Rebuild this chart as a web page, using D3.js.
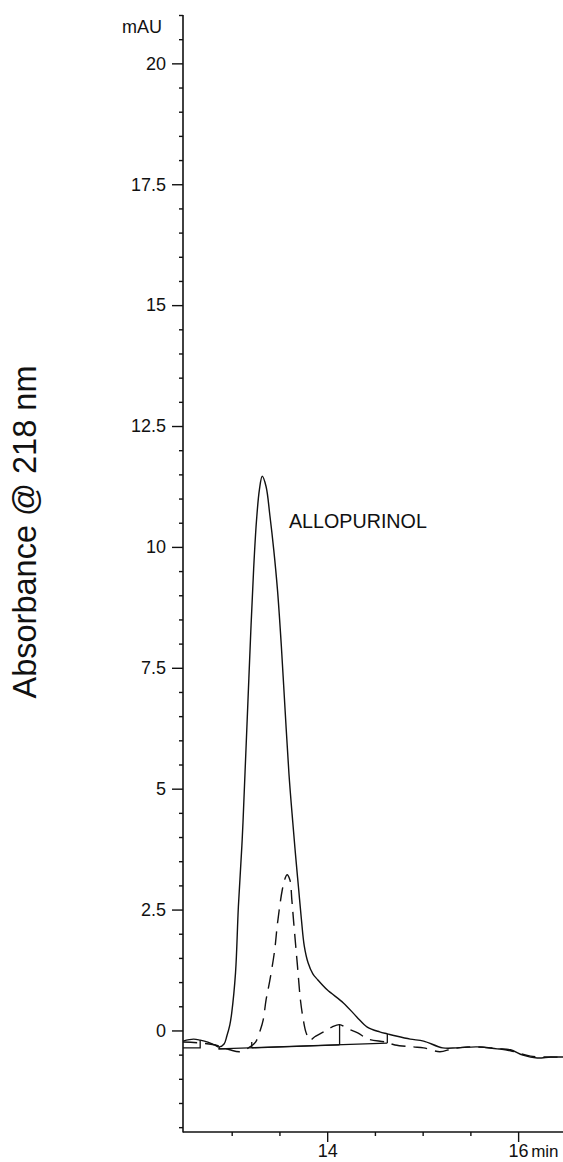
<!DOCTYPE html>
<html>
<head>
<meta charset="utf-8">
<script src="https://cdn.jsdelivr.net/npm/d3@7"></script>
<style>
  html, body { margin: 0; padding: 0; background: #fff; }
  svg { display: block; }
  text { font-family: "Liberation Sans", Arial, Helvetica, sans-serif; fill: #111; }
</style>
</head>
<body>
<script>
// Retention time (min) and absorbance (mAU) for the sample trace (solid)
const sampleTime = [12.49, 12.60, 12.67, 12.75, 12.82, 12.87, 12.92, 12.95, 12.98, 13.00, 13.04, 13.07, 13.11, 13.14, 13.17, 13.20, 13.23, 13.26, 13.29, 13.32, 13.36, 13.40, 13.44, 13.48, 13.52, 13.56, 13.60, 13.64, 13.67, 13.70, 13.73, 13.76, 13.80, 13.85, 13.90, 14.00, 14.17, 14.31, 14.42, 14.55, 14.63, 14.71, 14.87, 15.01, 15.21, 15.36, 15.57, 15.78, 15.92, 16.05, 16.20, 16.34, 16.47];
const sampleAbs = [-0.22, -0.18, -0.20, -0.24, -0.30, -0.34, -0.28, -0.11, 0.11, 0.36, 1.19, 2.56, 3.95, 5.35, 6.80, 8.25, 9.55, 10.55, 11.18, 11.46, 11.25, 10.65, 9.95, 9.10, 7.95, 6.60, 5.30, 4.30, 3.60, 2.95, 2.30, 1.75, 1.40, 1.17, 1.05, 0.84, 0.57, 0.28, 0.07, -0.03, -0.07, -0.11, -0.18, -0.22, -0.36, -0.36, -0.34, -0.38, -0.40, -0.51, -0.57, -0.55, -0.55];

// Second trace (dashed)
const dashedTime = [12.49, 12.67, 12.83, 12.98, 13.09, 13.19, 13.25, 13.30, 13.33, 13.36, 13.40, 13.45, 13.48, 13.53, 13.56, 13.58, 13.61, 13.63, 13.65, 13.69, 13.72, 13.75, 13.78, 13.82, 13.87, 13.98, 14.05, 14.13, 14.22, 14.32, 14.43, 14.61, 14.71, 14.90, 15.01, 15.18, 15.31, 15.47, 15.71, 15.92, 16.13, 16.47];
const dashedAbs = [-0.24, -0.26, -0.30, -0.40, -0.44, -0.34, -0.24, 0.01, 0.22, 0.63, 1.04, 1.66, 2.22, 2.91, 3.15, 3.22, 3.11, 2.70, 2.22, 1.31, 0.63, 0.22, -0.05, -0.20, -0.13, -0.01, 0.07, 0.12, 0.03, -0.05, -0.18, -0.24, -0.30, -0.34, -0.36, -0.44, -0.38, -0.34, -0.36, -0.42, -0.53, -0.55];

// Integration baselines and drop lines, as [time, mAU] polylines
const integrationMarks = [
  [[12.86, -0.38], [14.63, -0.26]],
  [[13.21, -0.36], [14.13, -0.30]],
  [[14.13, -0.30], [14.13, 0.12]],
  [[14.63, -0.26], [14.63, -0.07]],
  [[13.21, -0.36], [13.21, -0.24]],
  [[12.49, -0.36], [12.67, -0.36], [12.67, -0.20]],
  [[12.87, -0.34], [12.87, -0.38], [12.95, -0.38]]
];

// Axis ticks and labels
const yMajorTicks = [0, 2.5, 5, 7.5, 10, 12.5, 15, 17.5, 20];
const yMajorLabels = ["0", "2.5", "5", "7.5", "10", "12.5", "15", "17.5", "20"];
const xMajorTicks = [14, 16];
const xMajorLabels = ["14", "16"];
const yUnit = "mAU";
const xUnit = "min";
const yTitle = "Absorbance @ 218 nm";
const peakLabel = "ALLOPURINOL";
const peakLabelAt = [13.60, 10.4];

const W = 563, H = 1162;
const axisX = 183, axisBottom = 1132, axisTop = 15;

const x = d3.scaleLinear().domain([12.49, 16.47]).range([axisX, 563]);
const y = d3.scaleLinear().domain([-2.1, 21.0]).range([axisBottom, axisTop]);

const svg = d3.select("body").append("svg")
  .attr("width", W).attr("height", H)
  .attr("viewBox", `0 0 ${W} ${H}`);

svg.append("rect").attr("width", W).attr("height", H).attr("fill", "#fff");

// minor ticks every 0.5
const yMinor = d3.range(-4, 43).map(i => i / 2).filter(v => !yMajorTicks.includes(v));
const xMinor = d3.range(26, 33).map(i => i / 2).filter(v => !xMajorTicks.includes(v) && v >= 12.5);

const yAxisG = svg.append("g").attr("transform", `translate(${axisX},0)`);
yAxisG.call(d3.axisLeft(y).tickValues(yMinor).tickSize(4).tickFormat(""));
yAxisG.call(g => g.select(".domain").remove());
const yMajG = svg.append("g").attr("transform", `translate(${axisX},0)`)
  .call(d3.axisLeft(y).tickValues(yMajorTicks).tickSize(11).tickPadding(6)
    .tickFormat((d, i) => yMajorLabels[i]));
yMajG.select(".domain").remove();
yMajG.selectAll("text").attr("font-size", 18).attr("font-family", null);

const xMinG = svg.append("g").attr("transform", `translate(0,${axisBottom})`)
  .call(d3.axisBottom(x).tickValues(xMinor).tickSize(4).tickFormat(""));
xMinG.select(".domain").remove();
const xMajG = svg.append("g").attr("transform", `translate(0,${axisBottom})`)
  .call(d3.axisBottom(x).tickValues(xMajorTicks).tickSize(10).tickPadding(2)
    .tickFormat((d, i) => xMajorLabels[i]));
xMajG.select(".domain").remove();
xMajG.selectAll("text").attr("font-size", 18).attr("font-family", null);

svg.selectAll(".tick line").attr("stroke", "#111").attr("stroke-width", 1.4);

// axis lines
svg.append("line").attr("x1", axisX).attr("x2", axisX).attr("y1", axisTop).attr("y2", axisBottom + 0.5)
  .attr("stroke", "#111").attr("stroke-width", 1.6);
svg.append("line").attr("x1", axisX).attr("x2", W).attr("y1", axisBottom).attr("y2", axisBottom)
  .attr("stroke", "#111").attr("stroke-width", 1.6);

// units and titles
svg.append("text").attr("x", axisX - 21).attr("y", 33).attr("text-anchor", "end")
  .attr("font-size", 18).text(yUnit);
svg.append("text").attr("x", x(16) + 13).attr("y", 1157)
  .attr("font-size", 17).text(xUnit);
svg.append("text")
  .attr("transform", `translate(36,532) rotate(-90)`)
  .attr("text-anchor", "middle").attr("font-size", 32.5).text(yTitle);

// traces
const line = d3.line().x(d => x(d[0])).y(d => y(d[1])).curve(d3.curveCatmullRom.alpha(0.5));
const sample = sampleTime.map((t, i) => [t, sampleAbs[i]]);
const dashed = dashedTime.map((t, i) => [t, dashedAbs[i]]);

svg.append("path").datum(dashed).attr("d", line)
  .attr("fill", "none").attr("stroke", "#111").attr("stroke-width", 1.4)
  .attr("stroke-dasharray", "14,8");

svg.append("path").datum(sample).attr("d", line)
  .attr("fill", "none").attr("stroke", "#111").attr("stroke-width", 1.4);

const straight = d3.line().x(d => x(d[0])).y(d => y(d[1]));
svg.append("g").selectAll("path").data(integrationMarks).join("path")
  .attr("d", straight).attr("fill", "none").attr("stroke", "#111").attr("stroke-width", 1.3);

svg.append("text").attr("x", x(peakLabelAt[0])).attr("y", y(peakLabelAt[1]))
  .attr("font-size", 19.7).text(peakLabel);
</script>
</body>
</html>
